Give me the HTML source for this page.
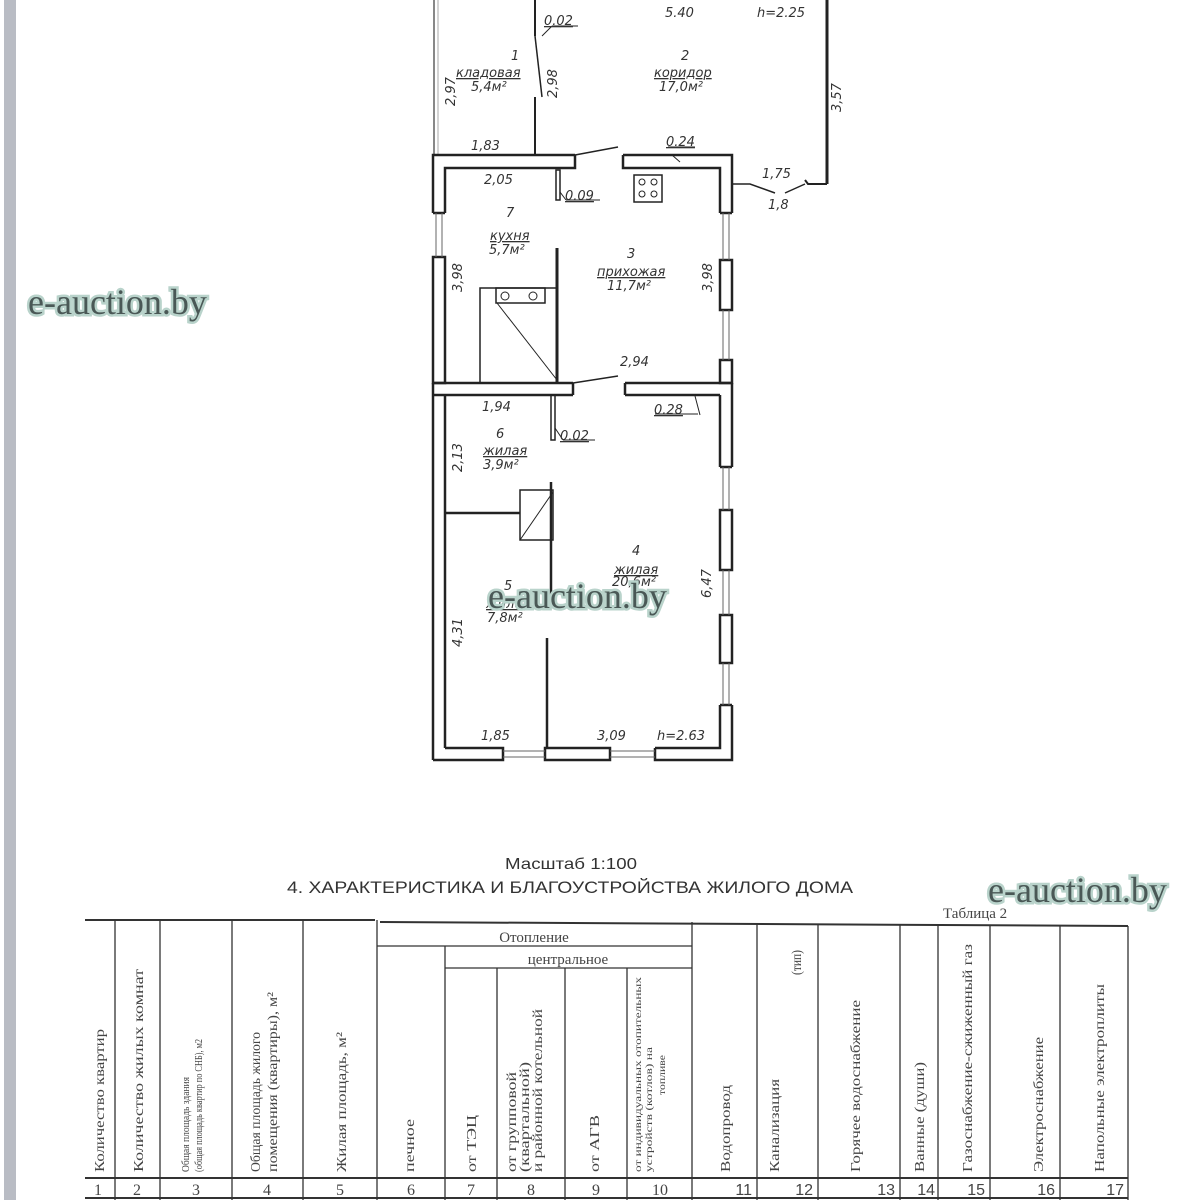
<!DOCTYPE html>
<html><head><meta charset="utf-8">
<style>
html,body{margin:0;padding:0;background:#fff;}
svg{display:block;}
.d{font-family:"DejaVu Sans","Liberation Sans",sans-serif;font-style:italic;font-size:13px;fill:#333;}
.w{font-family:"Liberation Serif",serif;font-size:36px;fill:#4a5856;stroke:#b9d3cb;stroke-width:5px;paint-order:stroke;}
.t{font-family:"Liberation Serif",serif;fill:#444;}
</style></head><body>
<svg width="1200" height="1200" viewBox="0 0 1200 1200" xmlns="http://www.w3.org/2000/svg">
<rect x="4" y="0" width="12" height="1200" fill="#b9bcc4"/>
<g stroke="#222" fill="none">
<line x1="434" y1="0" x2="434" y2="155" stroke="#888" stroke-width="2"/>
<line x1="438" y1="0" x2="438" y2="155" stroke="#aaa" stroke-width="1"/>
<line x1="827" y1="0" x2="827" y2="184" stroke-width="3"/>
<polyline points="827,184 808,184 805,180" stroke-width="2"/>
<polyline points="732,184 750,184 775,193" stroke-width="1.5"/>
<line x1="785" y1="193" x2="805" y2="184" stroke-width="1.5"/>
<line x1="535" y1="0" x2="535" y2="36" stroke-width="2"/>
<line x1="535" y1="36" x2="542" y2="97" stroke-width="1.5"/>
<line x1="535" y1="97" x2="535" y2="155" stroke-width="2"/>
<line x1="542" y1="36" x2="552" y2="26"/><line x1="552" y1="26" x2="578" y2="26"/>
<g stroke-width="2.5">
<polyline points="575,155 433,155 433,213"/><polyline points="575,155 575,168 445,168 445,213"/>
<polyline points="623,155 732,155 732,213"/><polyline points="623,155 623,168 720,168 720,213"/>
<line x1="433" y1="213" x2="445" y2="213"/><line x1="720" y1="213" x2="732" y2="213"/>
<rect x="433" y="257" width="12" height="126" fill="none"/>
<line x1="433" y1="383" x2="433" y2="760"/>
<line x1="445" y1="395" x2="445" y2="748"/>
<rect x="720" y="260" width="12" height="50"/>
<rect x="720" y="360" width="12" height="23"/>
<line x1="433" y1="383" x2="573" y2="383"/><line x1="433" y1="395" x2="573" y2="395"/><line x1="573" y1="383" x2="573" y2="395"/>
<line x1="625" y1="383" x2="732" y2="383"/><line x1="625" y1="395" x2="720" y2="395"/><line x1="625" y1="383" x2="625" y2="395"/>
<line x1="720" y1="395" x2="720" y2="467"/><line x1="732" y1="383" x2="732" y2="467"/><line x1="720" y1="467" x2="732" y2="467"/>
<rect x="720" y="510" width="12" height="60"/><rect x="720" y="615" width="12" height="48"/>
<polyline points="720,705 720,748 655,748"/><polyline points="732,705 732,760 655,760 655,748"/>
<line x1="720" y1="705" x2="732" y2="705"/>
<rect x="545" y="748" width="65" height="12"/>
<polyline points="445,748 503,748 503,760 433,760"/>
</g>
<g stroke-width="1" stroke="#666">
<line x1="436" y1="213" x2="436" y2="257"/><line x1="442" y1="213" x2="442" y2="257"/>
<line x1="723" y1="213" x2="723" y2="260"/><line x1="729" y1="213" x2="729" y2="260"/>
<line x1="723" y1="310" x2="723" y2="360"/><line x1="729" y1="310" x2="729" y2="360"/>
<line x1="723" y1="467" x2="723" y2="510"/><line x1="729" y1="467" x2="729" y2="510"/>
<line x1="723" y1="570" x2="723" y2="615"/><line x1="729" y1="570" x2="729" y2="615"/>
<line x1="723" y1="663" x2="723" y2="705"/><line x1="729" y1="663" x2="729" y2="705"/>
<line x1="503" y1="751" x2="545" y2="751"/><line x1="503" y1="757" x2="545" y2="757"/>
<line x1="610" y1="751" x2="655" y2="751"/><line x1="610" y1="757" x2="655" y2="757"/>
</g>
<line x1="575" y1="155" x2="618" y2="147" stroke-width="1.5"/>
<line x1="573" y1="383" x2="618" y2="376" stroke-width="1.5"/>
<rect x="556" y="170" width="4" height="30" stroke-width="1.5"/>
<line x1="560" y1="192" x2="566" y2="200"/><line x1="566" y1="200" x2="600" y2="200"/>
<rect x="634" y="175" width="28" height="27" stroke-width="1.5"/>
<circle cx="642" cy="182" r="3"/><circle cx="654" cy="182" r="3"/><circle cx="642" cy="194" r="3"/><circle cx="654" cy="194" r="3"/>
<line x1="557" y1="248" x2="557" y2="383" stroke-width="3"/>
<rect x="480" y="288" width="77" height="95" stroke-width="1.5"/>
<rect x="496" y="288" width="49" height="15" stroke-width="1.5"/>
<circle cx="505" cy="296" r="4"/><circle cx="533" cy="296" r="4"/>
<line x1="497" y1="303" x2="557" y2="380"/>
<line x1="672" y1="155" x2="680" y2="162"/><line x1="668" y1="147" x2="695" y2="147"/>
<rect x="551" y="395" width="4" height="45" stroke-width="1.5"/>
<line x1="555" y1="428" x2="563" y2="440"/><line x1="563" y1="440" x2="595" y2="440"/>
<line x1="445" y1="513" x2="520" y2="513" stroke-width="2.5"/>
<rect x="520" y="490" width="33" height="50" stroke-width="1.5"/>
<line x1="520" y1="540" x2="553" y2="492"/>
<line x1="551" y1="482" x2="551" y2="600" stroke-width="2.5"/>
<line x1="547" y1="638" x2="547" y2="748" stroke-width="2.5"/>
<line x1="700" y1="415" x2="695" y2="396"/><line x1="655" y1="414" x2="698" y2="414"/>
</g>
<g class="d">
<text x="665" y="17">5.40</text><text x="757" y="17">h=2.25</text>
<text x="544" y="25" text-decoration="underline">0.02</text>
<text x="511" y="60">1</text><text x="456" y="77" text-decoration="underline">кладовая</text><text x="471" y="91">5,4м²</text>
<text x="681" y="60">2</text><text x="654" y="77" text-decoration="underline">коридор</text><text x="659" y="91">17,0м²</text>
<text x="471" y="150">1,83</text><text x="666" y="146" text-decoration="underline">0.24</text>
<text x="484" y="184">2,05</text><text x="565" y="200" text-decoration="underline">0.09</text>
<text x="762" y="178">1,75</text><text x="768" y="209">1,8</text>
<text x="506" y="217">7</text><text x="490" y="240" text-decoration="underline">кухня</text><text x="489" y="254">5,7м²</text>
<text x="627" y="258">3</text><text x="597" y="276" text-decoration="underline">прихожая</text><text x="607" y="290">11,7м²</text>
<text x="620" y="366">2,94</text>
<text x="482" y="411">1,94</text><text x="654" y="414" text-decoration="underline">0.28</text>
<text x="496" y="438">6</text><text x="483" y="455" text-decoration="underline">жилая</text><text x="483" y="469">3,9м²</text>
<text x="560" y="440" text-decoration="underline">0.02</text>
<text x="632" y="555">4</text><text x="614" y="574" text-decoration="underline">жилая</text><text x="612" y="586">20,6м²</text>
<text x="504" y="590">5</text><text x="486" y="608" text-decoration="underline">жилая</text><text x="487" y="622">7,8м²</text>
<text x="481" y="740">1,85</text><text x="597" y="740">3,09</text><text x="657" y="740">h=2.63</text>
<text transform="translate(455,106) rotate(-90)">2,97</text>
<text transform="translate(557,98) rotate(-90)">2,98</text>
<text transform="translate(841,112) rotate(-90)">3,57</text>
<text transform="translate(462,292) rotate(-90)">3,98</text>
<text transform="translate(712,292) rotate(-90)">3,98</text>
<text transform="translate(462,472) rotate(-90)">2,13</text>
<text transform="translate(711,598) rotate(-90)">6,47</text>
<text transform="translate(462,647) rotate(-90)">4,31</text>
</g>
<text x="505" y="869" textLength="132" lengthAdjust="spacingAndGlyphs" font-family="Liberation Sans,sans-serif" font-size="16" fill="#333">Масштаб 1:100</text>
<text x="287" y="893" textLength="566" lengthAdjust="spacingAndGlyphs" font-family="Liberation Sans,sans-serif" font-size="17" fill="#333">4. ХАРАКТЕРИСТИКА И БЛАГОУСТРОЙСТВА ЖИЛОГО ДОМА</text>
<text x="943" y="918" class="t" font-size="15">Таблица 2</text>
<g stroke="#333" fill="none" stroke-width="1.3">
<line x1="85" y1="920" x2="375" y2="920" stroke-width="2"/>
<line x1="380" y1="922" x2="1128" y2="926" stroke-width="2"/>
<line x1="377" y1="946" x2="692" y2="946"/>
<line x1="445" y1="968" x2="692" y2="968"/>
<line x1="85" y1="1178" x2="1128" y2="1178" stroke-width="2"/>
<line x1="85" y1="1198" x2="1128" y2="1198" stroke-width="2"/>
<line x1="115" y1="920" x2="115" y2="1200"/><line x1="160" y1="920" x2="160" y2="1200"/>
<line x1="232" y1="920" x2="232" y2="1200"/><line x1="303" y1="920" x2="303" y2="1200"/>
<line x1="377" y1="920" x2="377" y2="1200"/><line x1="445" y1="946" x2="445" y2="1200"/>
<line x1="497" y1="968" x2="497" y2="1200"/><line x1="565" y1="968" x2="565" y2="1200"/>
<line x1="627" y1="968" x2="627" y2="1200"/><line x1="692" y1="922" x2="692" y2="1200"/>
<line x1="757" y1="924" x2="757" y2="1200"/><line x1="818" y1="925" x2="818" y2="1200"/>
<line x1="900" y1="925" x2="900" y2="1200"/><line x1="938" y1="925" x2="938" y2="1200"/>
<line x1="990" y1="925" x2="990" y2="1200"/><line x1="1060" y1="926" x2="1060" y2="1200"/>
<line x1="1128" y1="926" x2="1128" y2="1200"/>
</g>
<g class="t" font-size="14">
<text x="534" y="942" text-anchor="middle" font-size="15">Отопление</text>
<text x="568" y="964" text-anchor="middle" font-size="15">центральное</text>
<g lengthAdjust="spacingAndGlyphs">
<text transform="translate(104,1172) rotate(-90)" textLength="143" lengthAdjust="spacingAndGlyphs">Количество квартир</text>
<text transform="translate(143,1172) rotate(-90)" textLength="203" lengthAdjust="spacingAndGlyphs">Количество жилых комнат</text>
<text transform="translate(189,1172) rotate(-90)" font-size="10" textLength="95" lengthAdjust="spacingAndGlyphs">Общая площадь здания</text>
<text transform="translate(202,1172) rotate(-90)" font-size="10" textLength="133" lengthAdjust="spacingAndGlyphs">(общая площадь квартир по СНБ), м2</text>
<text transform="translate(260,1172) rotate(-90)" textLength="140" lengthAdjust="spacingAndGlyphs">Общая площадь жилого</text>
<text transform="translate(277,1172) rotate(-90)" textLength="180" lengthAdjust="spacingAndGlyphs">помещения (квартиры), м²</text>
<text transform="translate(346,1172) rotate(-90)" textLength="140" lengthAdjust="spacingAndGlyphs">Жилая площадь, м²</text>
<text transform="translate(414,1172) rotate(-90)" textLength="53" lengthAdjust="spacingAndGlyphs">печное</text>
<text transform="translate(476,1172) rotate(-90)" textLength="57" lengthAdjust="spacingAndGlyphs">от ТЭЦ</text>
<text transform="translate(516,1172) rotate(-90)" textLength="100" lengthAdjust="spacingAndGlyphs">от групповой</text>
<text transform="translate(529,1172) rotate(-90)" textLength="110" lengthAdjust="spacingAndGlyphs">(квартальной)</text>
<text transform="translate(542,1172) rotate(-90)" textLength="163" lengthAdjust="spacingAndGlyphs">и районной котельной</text>
<text transform="translate(599,1172) rotate(-90)" textLength="57" lengthAdjust="spacingAndGlyphs">от АГВ</text>
<text transform="translate(641,1172) rotate(-90)" font-size="9" textLength="195" lengthAdjust="spacingAndGlyphs">от индивидуальных отопительных</text>
<text transform="translate(652,1172) rotate(-90)" font-size="9" textLength="125" lengthAdjust="spacingAndGlyphs">устройств (котлов) на</text>
<text transform="translate(665,1095) rotate(-90)" font-size="9" textLength="40" lengthAdjust="spacingAndGlyphs">топливе</text>
<text transform="translate(730,1172) rotate(-90)" textLength="87" lengthAdjust="spacingAndGlyphs">Водопровод</text>
<text transform="translate(779,1172) rotate(-90)" textLength="93" lengthAdjust="spacingAndGlyphs">Канализация</text>
<text transform="translate(801,975) rotate(-90)" textLength="25" lengthAdjust="spacingAndGlyphs">(тип)</text>
<text transform="translate(860,1172) rotate(-90)" textLength="172" lengthAdjust="spacingAndGlyphs">Горячее водоснабжение</text>
<text transform="translate(924,1172) rotate(-90)" textLength="110" lengthAdjust="spacingAndGlyphs">Ванные (души)</text>
<text transform="translate(972,1172) rotate(-90)" textLength="228" lengthAdjust="spacingAndGlyphs">Газоснабжение-сжиженный газ</text>
<text transform="translate(1043,1172) rotate(-90)" textLength="135" lengthAdjust="spacingAndGlyphs">Электроснабжение</text>
<text transform="translate(1104,1172) rotate(-90)" textLength="188" lengthAdjust="spacingAndGlyphs">Напольные электроплиты</text>
</g>
<g font-size="16" text-anchor="middle">
<text x="98" y="1195">1</text><text x="137" y="1195">2</text><text x="196" y="1195">3</text>
<text x="267" y="1195">4</text><text x="340" y="1195">5</text><text x="411" y="1195">6</text>
<text x="471" y="1195">7</text><text x="531" y="1195">8</text><text x="596" y="1195">9</text>
<text x="660" y="1195">10</text>
</g>
<g font-size="16" font-family="Liberation Sans,sans-serif" text-anchor="end">
<text x="752" y="1195">11</text><text x="813" y="1195">12</text><text x="895" y="1195">13</text>
<text x="935" y="1195">14</text><text x="985" y="1195">15</text><text x="1055" y="1195">16</text>
<text x="1124" y="1195">17</text>
</g>
</g>
<text class="w" x="28" y="314">e-auction.by</text>
<text class="w" x="488" y="608">e-auction.by</text>
<text class="w" x="988" y="902">e-auction.by</text>
</svg>
</body></html>
